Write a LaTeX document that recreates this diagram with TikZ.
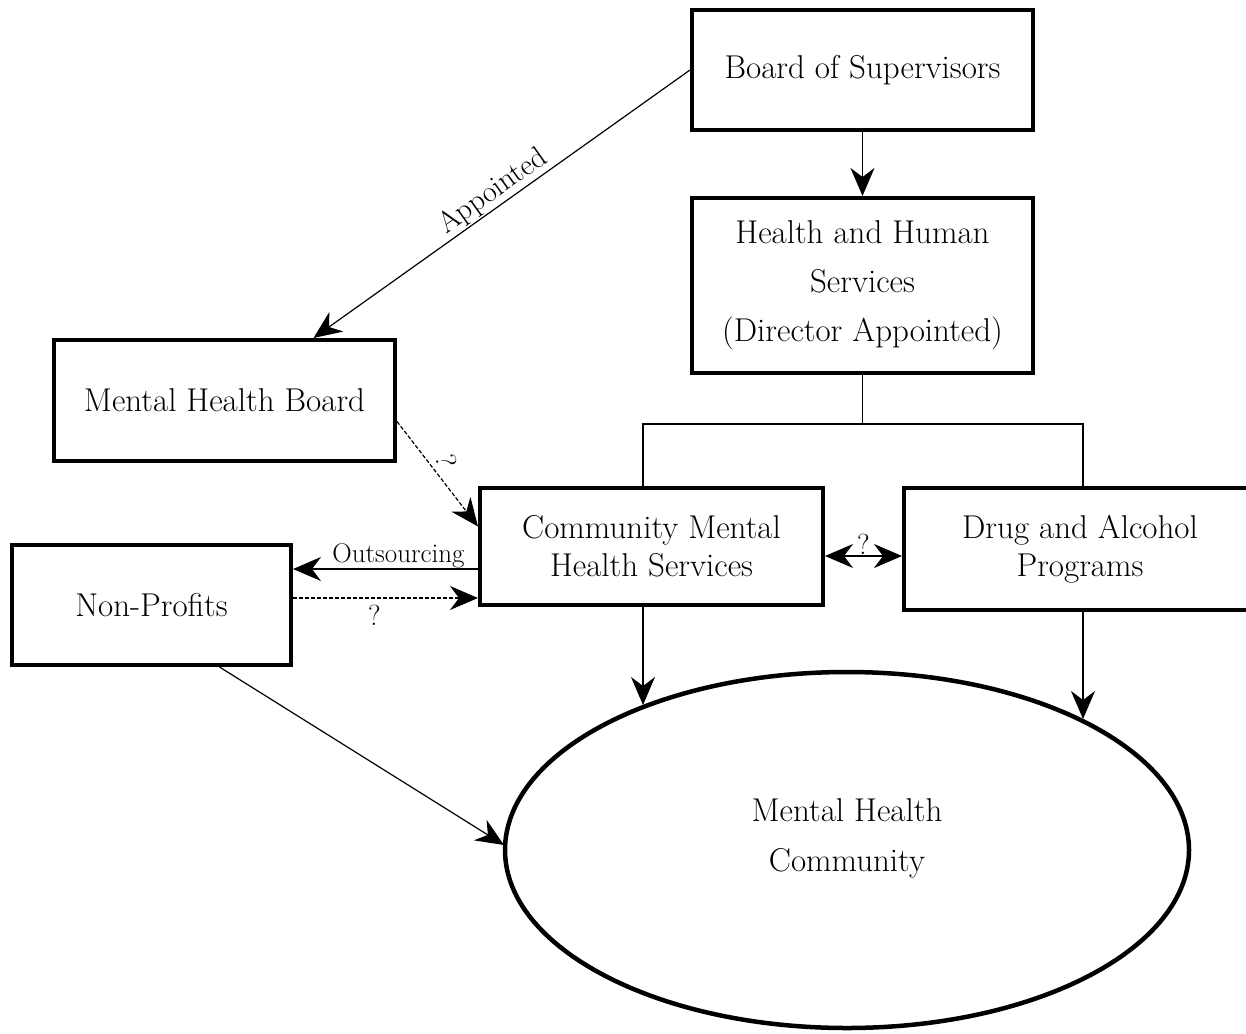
\documentclass[tikz,border=0pt]{standalone}
\usepackage{fontspec}
\usetikzlibrary{arrows.meta,shapes.geometric,calc}

\begin{document}
\begin{tikzpicture}[x=1pt,y=-1pt, >={Stealth[length=28pt,width=24pt,inset=9pt]},
  every node/.style={font=\fontsize{33}{49}\selectfont},
  box/.style={draw,line width=4pt,inner sep=0pt,align=center},
  tight/.style={font=\fontsize{33}{38}\selectfont},
  oval/.style={draw,ellipse,line width=4.5pt,inner sep=0pt,minimum width=684pt,minimum height=356pt},
  link/.style={line width=1.2pt},
  maybe/.style={line width=1.2pt,dash pattern=on 4pt off 2pt},
  small/.style={font=\fontsize{27}{29}\selectfont},
  quest/.style={font=\fontsize{29}{31}\selectfont}]
  \useasboundingbox (0,0) rectangle (1246,1033);
  % boxes
  \node[box,minimum width=341pt,minimum height=120pt] (board) at (862.5,70) {Board of Supervisors};
  \node[box,minimum width=341pt,minimum height=175pt] (hhs) at (862.5,285.5) {Health and Human\\Services\\(Director Appointed)};
  \node[box,minimum width=341pt,minimum height=121pt] (mhb) at (224.5,400.5) {Mental Health Board};
  \node[box,tight,minimum width=343pt,minimum height=117pt] (cmhs) at (651.5,546.5) {Community Mental\\Health Services};
  \node[box,tight,minimum width=352pt,minimum height=122pt] (dap) at (1080,549) {Drug and Alcohol\\Programs};
  \node[box,minimum width=279pt,minimum height=120pt] (np) at (151.5,605) {Non-Profits};
  \node[oval,label={[align=center,yshift=12pt,font=\fontsize{33}{50}\selectfont]center:{Mental Health\\Community}}] (comm) at (847,850) {};
  % helper points
  \coordinate (split) at (862.5,424);
  \coordinate (lbr) at (643,424);
  \coordinate (rbr) at (1083,424);
  \coordinate (dbl) at (0,556);
  \coordinate (outy) at (0,569);
  \coordinate (qy) at (0,598);
  % connectors
  \draw[->,link] (board) -- (hhs);
  \draw[->,link] (board.west) -- ($(mhb.north)+(89,0)$)
    node[midway,sloped,above,inner sep=1pt,font=\fontsize{30}{32}\selectfont] {Appointed};
  \draw[link] (hhs.south) -- (split);
  \draw[link] (cmhs.north -| lbr) |- (split) -| (dap.north -| rbr);
  \draw[->,maybe] ($(mhb.east)+(0,21)$) -- ($(cmhs.west)+(0,-20)$)
    node[pos=0.4,xshift=17pt,yshift=3pt,rotate=-80,quest] {?};
  \draw[<->,link] (cmhs.east |- dbl) -- (dap.west |- dbl) node[midway,above,inner sep=1pt,quest] {?};
  \draw[->,link] (cmhs.west |- outy) -- (np.east |- outy) node[pos=0.43,above,inner sep=0pt,small] {Outsourcing};
  \draw[->,maybe] (np.east |- qy) -- (cmhs.west |- qy) node[pos=0.44,below=3pt,quest] {?};
  \draw[->,link] (cmhs.south -| lbr) -- ($(comm.center)+(-204,-145)$);
  \draw[->,link] (dap.south -| rbr) -- ($(comm.center)+(236,-131)$);
  \draw[->,link] ($(np.south)+(68,0)$) -- ($(comm.center)+(-343,-5)$);
\end{tikzpicture}
\end{document}
